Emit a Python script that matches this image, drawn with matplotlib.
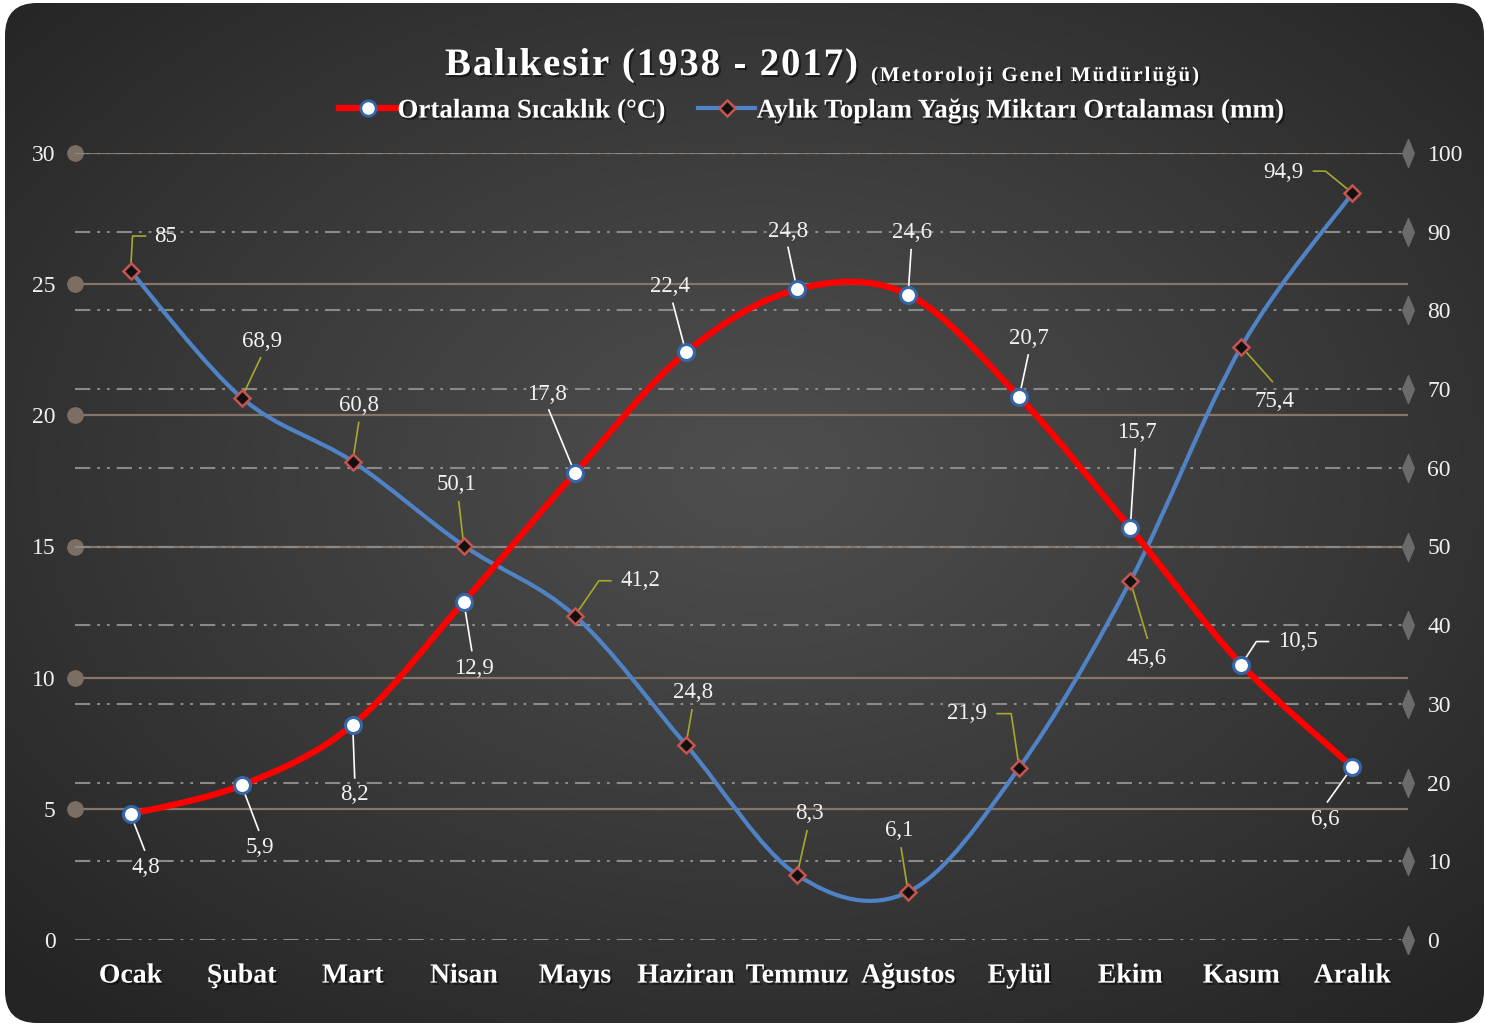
import numpy as np
import matplotlib
matplotlib.use('Agg')
import matplotlib.pyplot as plt
import matplotlib.transforms as mtransforms
import matplotlib.patheffects as pe
from matplotlib.path import Path
from matplotlib.patches import PathPatch, FancyBboxPatch
from matplotlib.lines import Line2D

months = ['Ocak', 'Şubat', 'Mart', 'Nisan', 'Mayıs', 'Haziran',
          'Temmuz', 'Ağustos', 'Eylül', 'Ekim', 'Kasım', 'Aralık']
temperature = [4.8, 5.9, 8.2, 12.9, 17.8, 22.4, 24.8, 24.6, 20.7, 15.7, 10.5, 6.6]
precipitation = [85, 68.9, 60.8, 50.1, 41.2, 24.8, 8.3, 6.1, 21.9, 45.6, 75.4, 94.9]
temp_ticks = [0, 5, 10, 15, 20, 25, 30]
rain_ticks = [0, 10, 20, 30, 40, 50, 60, 70, 80, 90, 100]

title = 'Balıkesir (1938 - 2017)'
subtitle = '(Metoroloji Genel Müdürlüğü)'
temp_name = 'Ortalama Sıcaklık (°C)'
rain_name = 'Aylık Toplam Yağış Miktarı Ortalaması (mm)'

# data label placement, pixels from the marker (x right, y down)
temp_text_off = [(15, 53), (18, 62), (2, 70), (10, 67), (-28, -79), (-16, -66),
                 (-9, -58), (4, -62), (10, -58), (7, -96), (57, -23), (-27, 53)]
temp_leader = [[(14, 36)], [(17, 45)], [(2, 53)], [(8, 49)], [(-26, -63)], [(-13, -49)],
               [(-9, -42)], [(3, -45)], [(9, -42)], [(5, -79)], [(15, -23), (27, -23)],
               [(-25, 35)]]
rain_text_off = [(35, -35), (20, -56), (6, -56), (-7, -61), (66, -35), (7, -52),
                 (12, -61), (-9, -61), (-52, -54), (16, 77), (33, 55), (-69, -21)]
rain_leader = [[(2, -35), (15, -35)], [(19, -40)], [(6, -39)], [(-5, -44)],
               [(24, -35), (36, -35)], [(6, -35)], [(10, -44)], [(-7, -44)],
               [(-8, -54), (-22, -54)], [(17, 57)], [(31, 35)], [(-27, -22), (-39, -22)]]

plt.rcParams['font.family'] = 'Liberation Serif'
plt.rcParams['lines.scale_dashes'] = False

W, H = 1486, 1026
fig = plt.figure(figsize=(W / 100, H / 100), dpi=100, facecolor='white')


def smooth_path(xs, ys):
    # Excel-like smoothed line: Catmull-Rom segments as cubic Bezier
    p = np.column_stack([xs, ys]).astype(float)
    n = len(p)
    verts = [p[0]]
    codes = [Path.MOVETO]
    for i in range(n - 1):
        p0 = p[i - 1] if i > 0 else p[i]
        p3 = p[i + 2] if i + 2 < n else p[i + 1]
        verts += [p[i] + (p[i + 1] - p0) / 6, p[i + 1] - (p3 - p[i]) / 6, p[i + 1]]
        codes += [Path.CURVE4] * 3
    return Path(verts, codes)


def fmt(v):
    return ('%g' % v).replace('.', ',')


# background card with radial gradient
bg = fig.add_axes([0, 0, 1, 1], zorder=0)
bg.set_xlim(0, W)
bg.set_ylim(H, 0)
bg.axis('off')
gx, gy = np.meshgrid(np.linspace(0, W, 300), np.linspace(0, H, 210))
r = np.sqrt(((gx - 760) / (W / 2)) ** 2 + ((gy - 470) / (H / 2)) ** 2) / np.sqrt(2)
shade = (78 - 42 * np.clip(r, 0, 1) ** 1.1) / 255
img = bg.imshow(np.dstack([shade, shade, shade]), extent=(0, W, H, 0), interpolation='bilinear')
card = FancyBboxPatch((5, 3), 1479, 1020, boxstyle='round,pad=0,rounding_size=32',
                      fc='none', ec='none', transform=bg.transData)
bg.add_patch(card)
img.set_clip_path(card)

rect = [75 / W, 1 - 940 / H, (1408 - 75) / W, (940 - 153) / H]
ax = fig.add_axes(rect, zorder=1)
ax2 = ax.twinx()
ax3 = ax.twinx()
ax2.set_zorder(2)
ax3.set_zorder(3)
x = np.arange(len(months))

for a in (ax, ax2, ax3):
    a.patch.set_visible(False)
    for s in a.spines.values():
        s.set_visible(False)

# left axis grid: solid lines with round ends
for v in temp_ticks[1:]:
    ax.axhline(v, color='#85766b', lw=1.6, zorder=1)
ax.plot([-0.5] * (len(temp_ticks) - 1), temp_ticks[1:], ls='none', marker='o', ms=11,
        color='#7d6e63', clip_on=False, zorder=3)

# right axis grid: long dash dot dot, diamond ends
for v in rain_ticks:
    ax2.axhline(v, color='#8a8a8a', lw=1.5, ls=(0, (11, 5, 2, 5, 2, 5)), zorder=1)
diamond = Path([(0, 1), (0.42, 0), (0, -1), (-0.42, 0), (0, 1)],
               [Path.MOVETO, Path.LINETO, Path.LINETO, Path.LINETO, Path.CLOSEPOLY])
ax2.plot([11.5] * len(rain_ticks), rain_ticks, ls='none', marker=diamond, ms=20,
         color='#6b6b6b', clip_on=False, zorder=3)

# precipitation
blue = '#5083c6'
ax2.add_patch(PathPatch(smooth_path(x, precipitation), fill=False, ec=blue, lw=3,
                        capstyle='round', zorder=4))
ax2.plot(x, precipitation, ls='none', marker='D', ms=8.5, mfc='#111111', mec='#c4554f',
         mew=1.8, zorder=5)

# temperature
ax3.add_patch(PathPatch(smooth_path(x, temperature), fill=False, ec='#ff0000', lw=4.5,
                        capstyle='round', zorder=4))
ax3.plot(x, temperature, ls='none', marker='o', ms=11.5, mfc='white', mec='#3466a8',
         mew=2.2, zorder=5)


def add_labels(a, values, text_off, leaders, lcolor):
    for i, v in enumerate(values):
        T = mtransforms.Affine2D().scale(1, -1) + mtransforms.ScaledTranslation(i, v, a.transData)
        pts = [(0, 0)] + leaders[i]
        a.add_artist(Line2D([p[0] for p in pts], [p[1] for p in pts], transform=T,
                            color=lcolor, lw=1.2, clip_on=False, zorder=3))
        a.text(text_off[i][0], text_off[i][1], fmt(v), transform=T, ha='center',
               va='center', fontsize=16.5, color='#f2f2f2', zorder=6)


add_labels(ax2, precipitation, rain_text_off, rain_leader, '#a8a82c')
add_labels(ax3, temperature, temp_text_off, temp_leader, '#ffffff')

ax.set_xlim(-0.5, 11.5)
ax.set_ylim(0, 30)
ax2.set_ylim(0, 100)
ax3.set_ylim(0, 30)

shadow = [pe.withSimplePatchShadow(offset=(1.5, -1.5), shadow_rgbFace='black', alpha=0.5)]

ax.set_xticks(x)
ax.set_xticklabels(months, fontsize=20, fontweight='bold', color='white')
for t in ax.get_xticklabels():
    t.set_path_effects(shadow)
ax.tick_params(axis='x', length=0, pad=17)
ax.set_yticks(temp_ticks)
ax.set_yticklabels([str(v) for v in temp_ticks], fontsize=17, color='#f0f0f0')
ax.tick_params(axis='y', length=0, pad=14)
ax2.set_yticks(rain_ticks)
ax2.set_yticklabels([str(v) for v in rain_ticks], fontsize=17, color='#f0f0f0')
ax2.tick_params(axis='y', length=0, pad=14)
ax2.tick_params(axis='x', bottom=False, labelbottom=False)
ax3.set_yticks([])
ax3.tick_params(axis='x', bottom=False, labelbottom=False)


def spaced_text(x0, y_base, s, width, **kw):
    # draw text letter by letter, stretched to the given pixel width
    ren = fig.canvas.get_renderer()

    def w(txt):
        t = fig.text(0, 0, txt, transform=mtransforms.IdentityTransform(), **kw)
        ext = t.get_window_extent(ren).width
        t.remove()
        return ext

    wx = w('x')
    starts = [w(s[:k] + 'x') - wx if k else 0 for k in range(len(s))]
    gap = (width - w(s)) / (len(s) - 1)
    for k, ch in enumerate(s):
        if ch == ' ':
            continue
        fig.text(x0 + starts[k] + gap * k, H - y_base, ch, transform=mtransforms.IdentityTransform(),
                 va='baseline', ha='left', path_effects=shadow, **kw)


spaced_text(445, 75, title, 413, fontsize=28, fontweight='bold', color='white')
spaced_text(871, 81, subtitle, 328, fontsize=15, fontweight='bold', color='white')

h_temp = Line2D([], [], color='#ff0000', lw=4.5, marker='o', ms=11, mfc='white',
                mec='#3466a8', mew=2)
h_rain = Line2D([], [], color=blue, lw=3, marker='D', ms=8.5, mfc='#111111',
                mec='#c4554f', mew=1.8)
leg = fig.legend([h_temp, h_rain], [temp_name, rain_name], loc='center',
                 bbox_to_anchor=(812 / W, 1 - 111 / H), ncol=2, frameon=False,
                 prop=dict(family='Liberation Serif', weight='bold', size=19.5),
                 handlelength=2.1, handletextpad=0.05, columnspacing=1.2)
for t in leg.get_texts():
    t.set_color('white')
    t.set_path_effects(shadow)

fig.savefig('out.png', dpi=100, facecolor='white')
